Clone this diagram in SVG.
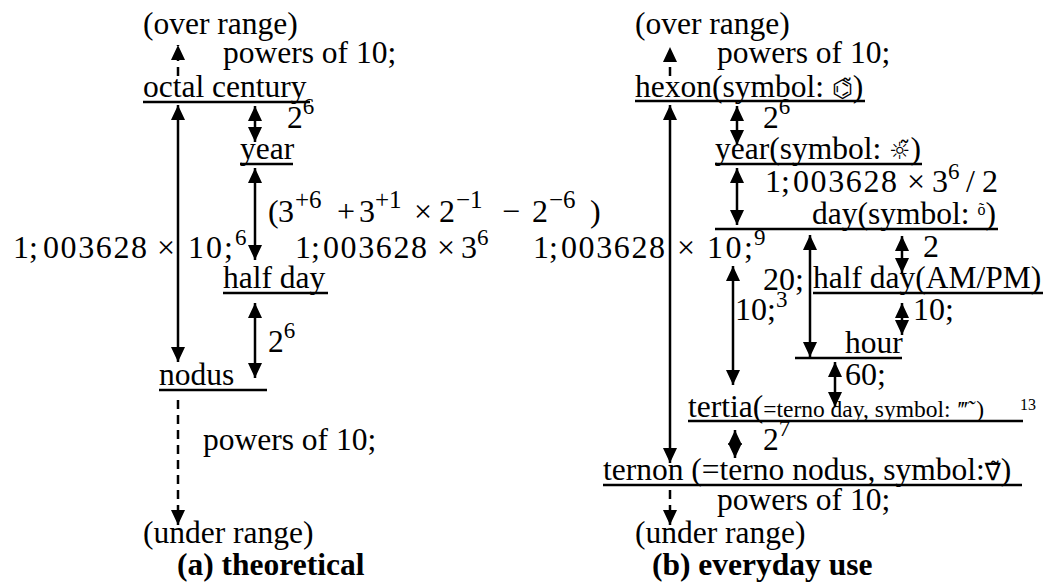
<svg xmlns="http://www.w3.org/2000/svg" width="1048" height="585" viewBox="0 0 1048 585">
<style>
text{font-family:"Liberation Serif","Times New Roman",serif;font-size:31.5px;fill:#000}
.m{font-size:32px}
.s{font-size:23px}
.sp{font-size:25px}
.sm{font-size:23.5px}
.b{font-weight:bold}
.ul{stroke:#000;stroke-width:2.5}
.c line{stroke:#000;stroke-width:2.5;fill:none}
.d{stroke-dasharray:9 6}
.sym{font-family:"DejaVu Sans","Noto Sans",sans-serif;font-size:24px}
</style>
<defs>
<marker id="ah" viewBox="0 0 15 14" refX="15" refY="7" markerWidth="15" markerHeight="14" markerUnits="userSpaceOnUse" orient="auto-start-reverse"><path d="M0,0L15,7L0,14z" fill="#000"/></marker>
</defs>

<!-- (a) theoretical -->
<g id="a-over"><text x="143" y="34">(over range)</text></g>
<g id="a-octal"><text x="143" y="97">octal century</text><line class="ul" x1="143" y1="102" x2="310" y2="102"/></g>
<g id="a-year"><text x="240" y="159">year</text><line class="ul" x1="240" y1="164" x2="293" y2="164"/></g>
<g id="a-halfday"><text x="223" y="288">half day</text><line class="ul" x1="223" y1="293" x2="328" y2="293"/></g>
<g id="a-nodus"><text x="159" y="385">nodus</text><line class="ul" x1="159" y1="390" x2="267" y2="390"/></g>
<g id="a-under"><text x="143" y="543">(under range)</text></g>
<g id="a-caption"><text class="b" x="177" y="575">(a)  theoretical</text></g>

<!-- (b) everyday use -->
<g id="b-over"><text x="635" y="34">(over range)</text></g>
<g id="b-hexon"><text x="635" y="97">hexon(symbol: <tspan class="sym">⌬̃</tspan>)</text><line class="ul" x1="635" y1="101" x2="865" y2="101"/></g>
<g id="b-year"><text x="715" y="159">year(symbol: <tspan class="sym">☼̃</tspan>)</text><line class="ul" x1="715" y1="164" x2="922" y2="164"/></g>
<g id="b-day"><text x="812" y="224">day(symbol: <tspan font-size="16" dy="-9">õ</tspan><tspan dy="9">)</tspan></text><line class="ul" x1="715" y1="229" x2="998" y2="229"/></g>
<g id="b-halfday"><text x="813" y="288">half day(AM/PM)</text><line class="ul" x1="813" y1="293" x2="1043" y2="293"/></g>
<g id="b-hour"><text x="845" y="353">hour</text><line class="ul" x1="795" y1="358" x2="902" y2="358"/></g>
<g id="b-tertia"><text x="688" y="417">tertia(<tspan class="sm">=terno day, symbol: </tspan><tspan class="sm" font-style="italic">‴̃</tspan><tspan class="sm" dx="4"> )</tspan><tspan font-size="16" x="1020" y="410">13</tspan></text><line class="ul" x1="688" y1="421" x2="1023" y2="421"/></g>
<g id="b-ternon"><text x="603" y="480">ternon (=terno nodus, symbol:<tspan class="sym" font-size="26">∇̃</tspan>)</text><line class="ul" x1="603" y1="485" x2="1022" y2="485"/></g>
<g id="b-under"><text x="635" y="543">(under range)</text></g>
<g id="b-caption"><text class="b" x="652" y="575">(b) everyday use</text></g>

<!-- connectors -->
<g id="connectors" class="c">
<line class="d" x1="178" y1="76" x2="178" y2="45" marker-end="url(#ah)"/>
<line x1="178" y1="105" x2="178" y2="362" marker-start="url(#ah)" marker-end="url(#ah)"/>
<line x1="255" y1="106" x2="255" y2="142" marker-start="url(#ah)" marker-end="url(#ah)"/>
<line x1="255" y1="168" x2="255" y2="260" marker-start="url(#ah)" marker-end="url(#ah)"/>
<line x1="255" y1="303" x2="255" y2="378" marker-start="url(#ah)" marker-end="url(#ah)"/>
<line class="d" x1="178" y1="400" x2="178" y2="525" marker-end="url(#ah)"/>

<line class="d" x1="670" y1="76" x2="670" y2="47" marker-end="url(#ah)"/>
<line x1="670" y1="105" x2="670" y2="463" marker-start="url(#ah)" marker-end="url(#ah)"/>
<line x1="737" y1="106" x2="737" y2="145" marker-start="url(#ah)" marker-end="url(#ah)"/>
<line x1="737" y1="168" x2="737" y2="225" marker-start="url(#ah)" marker-end="url(#ah)"/>
<line x1="733" y1="266" x2="733" y2="385" marker-start="url(#ah)" marker-end="url(#ah)"/>
<line x1="810" y1="235" x2="810" y2="357" marker-start="url(#ah)" marker-end="url(#ah)"/>
<line x1="902" y1="236" x2="902" y2="273" marker-start="url(#ah)" marker-end="url(#ah)"/>
<line x1="902" y1="303" x2="902" y2="335" marker-start="url(#ah)" marker-end="url(#ah)"/>
<line x1="835" y1="362" x2="835" y2="407" marker-start="url(#ah)" marker-end="url(#ah)"/>
<line x1="735" y1="430" x2="735" y2="458" marker-start="url(#ah)" marker-end="url(#ah)"/>
<line class="d" x1="670" y1="490" x2="670" y2="525" marker-end="url(#ah)"/>
</g>

<!-- connector labels -->
<g id="labels">
<text x="223" y="63">powers of 10;</text>
<text x="287" y="128">2<tspan class="s" dy="-14">6</tspan></text>
<text class="m" y="222"><tspan x="268">(</tspan><tspan x="278">3</tspan><tspan class="sp" x="295" y="208">+6</tspan><tspan x="337" y="222">+</tspan><tspan x="359">3</tspan><tspan class="sp" x="375" y="208">+1</tspan><tspan x="414" y="222">×</tspan><tspan x="439">2</tspan><tspan class="sp" x="456" y="208">−1</tspan><tspan x="502" y="222">−</tspan><tspan x="532">2</tspan><tspan class="sp" x="549" y="208">−6</tspan><tspan x="590" y="222">)</tspan></text>
<text class="m" y="258"><tspan x="13">1;</tspan><tspan x="43" textLength="104">003628</tspan><tspan x="157">×</tspan><tspan x="188" textLength="45">10;</tspan><tspan class="s" x="235" y="245">6</tspan></text>
<text class="m" y="258"><tspan x="295">1;</tspan><tspan x="323" textLength="104">003628</tspan><tspan x="437">×</tspan><tspan x="461">3</tspan><tspan class="s" x="477" y="245">6</tspan></text>
<text class="m" y="258"><tspan x="533">1;</tspan><tspan x="561" textLength="104">003628</tspan><tspan x="677">×</tspan><tspan x="707" textLength="46">10;</tspan><tspan class="s" x="754" y="245">9</tspan></text>
<text x="268" y="352">2<tspan class="s" dy="-14">6</tspan></text>
<text x="203" y="450">powers of 10;</text>

<text x="717" y="63">powers of 10;</text>
<text x="763" y="128">2<tspan class="s" dy="-14">6</tspan></text>
<text class="m" y="192"><tspan x="765">1;</tspan><tspan x="793" textLength="104">003628</tspan><tspan x="907">×</tspan><tspan x="932">3</tspan><tspan class="s" x="948" y="179">6</tspan><tspan x="966" y="192">/</tspan><tspan x="982">2</tspan></text>
<text class="m" x="923" y="257">2</text>
<text class="m" x="763" y="290">20;</text>
<text class="m" x="735" y="320">10;<tspan class="s" dy="-13">3</tspan></text>
<text class="m" x="913" y="320">10;</text>
<text class="m" x="845" y="385">60;</text>
<text x="763" y="450">2<tspan class="s" dy="-14">7</tspan></text>
<text x="717" y="510">powers of 10;</text>
</g>
</svg>
